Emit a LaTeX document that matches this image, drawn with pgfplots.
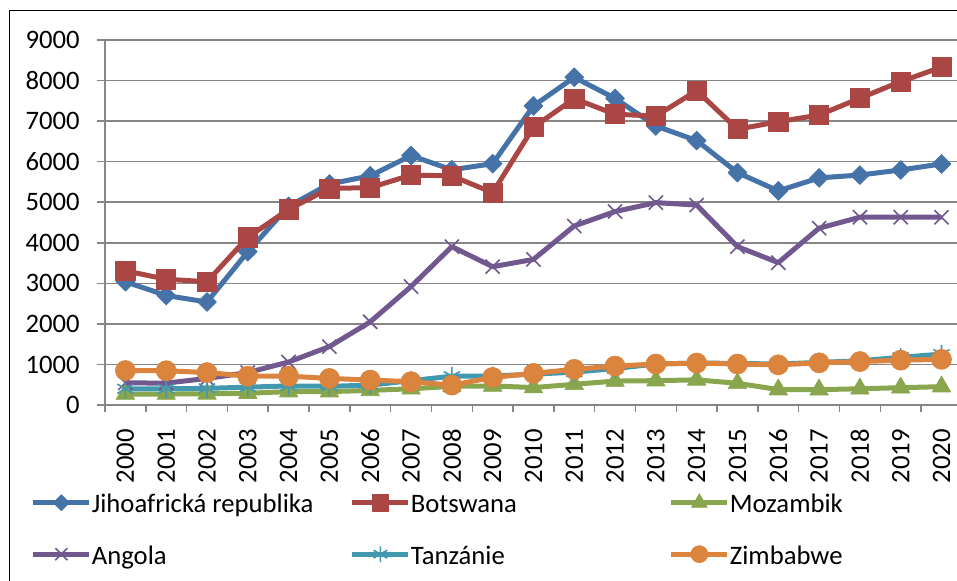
\documentclass[border=0pt]{standalone}
\usepackage{fontspec}
\setmainfont{Carlito}
\usepackage{pgfplots}
\pgfplotsset{compat=1.18}
\definecolor{cJ}{HTML}{4572A7}
\definecolor{cB}{HTML}{AA4643}
\definecolor{cM}{HTML}{89A54E}
\definecolor{cA}{HTML}{71588F}
\definecolor{cT}{HTML}{4198AF}
\definecolor{cZ}{HTML}{DB843D}
\definecolor{gridgray}{HTML}{868686}
\newcommand{\fs}{\fontsize{20}{24}\selectfont}
\newcommand{\legtxt}[1]{\makebox[193.5pt][l]{\strut #1}}
\begin{document}
\begin{tikzpicture}
\useasboundingbox (0,0) rectangle (717.75pt,435.75pt);
\draw[black,line width=1pt] (7pt,-5pt) -- (7pt,427.7pt) -- (725pt,427.7pt);
\begin{axis}[
  scale only axis, width=639pt, height=273.75pt,
  at={(78.75pt,132pt)}, anchor=south west,
  xmin=-0.5, xmax=20.38, ymin=0, ymax=9000,
  axis x line=bottom, axis y line=left,
  axis line style={-, draw=gridgray, line width=1.1pt},
  ytick={0,1000,...,9000},
  yticklabels={0,1000,2000,3000,4000,5000,6000,7000,8000,9000},
  scaled y ticks=false,
  xtick={0,...,20},
  xticklabels={2000,2001,2002,2003,2004,2005,2006,2007,2008,2009,2010,2011,2012,2013,2014,2015,2016,2017,2018,2019,2020},
  minor xtick={-0.5,0.5,...,19.5},
  every major x tick/.append style={draw=none},
  tick align=outside, major tick length=6pt, minor tick length=5.25pt,
  tick style={draw=gridgray, line width=1.1pt},
  ymajorgrids, major grid style={draw=gridgray, line width=1.1pt},
  yticklabel style={font=\fs, anchor=east, inner sep=0pt, xshift=-12.75pt},
  xticklabel style={font=\fs, yshift=-12pt, rotate=90, anchor=east, inner sep=0pt},
  every axis plot/.append style={line width=3.75pt, line join=round},
  legend columns=3,
  legend cell align=left,
  legend style={draw=none, fill=none, inner sep=0pt, outer sep=0pt, font=\fs,
    at={(-0.0870,-0.2345)}, anchor=north west, column sep=0pt, row sep=20.25pt,
    nodes={inner sep=0pt}},
  legend image code/.code={\draw[mark repeat=2,mark phase=2,#1,every mark/.append style={scale=0.85}] plot coordinates {(0pt,0pt) (21pt,0pt) (42pt,0pt)};},
]
\addplot[color=cJ, mark=square*, mark size=5pt, mark options={rotate=45, fill=cJ, draw=cJ, line width=0.5pt}] coordinates {
(0,3040) (1,2700) (2,2540) (3,3780) (4,4900) (5,5450) (6,5650) (7,6150) (8,5800) (9,5950) (10,7375) (11,8080) (12,7560) (13,6880) (14,6520) (15,5730) (16,5280) (17,5600) (18,5670) (19,5795) (20,5945)};
\addlegendentry{\legtxt{Jihoafrická republika}}
\addplot[color=cB, mark=square*, mark size=7.2pt, mark options={fill=cB, draw=cB, line width=0.5pt}] coordinates {
(0,3310) (1,3100) (2,3040) (3,4135) (4,4825) (5,5340) (6,5360) (7,5670) (8,5650) (9,5235) (10,6850) (11,7555) (12,7170) (13,7125) (14,7750) (15,6800) (16,6985) (17,7150) (18,7565) (19,7975) (20,8330)};
\addlegendentry{\legtxt{Botswana}}
\addplot[color=cM, mark=triangle*, mark size=8pt, mark options={fill=cM, draw=cM, line width=0.5pt}] coordinates {
(0,270) (1,270) (2,275) (3,290) (4,330) (5,330) (6,360) (7,400) (8,460) (9,470) (10,430) (11,510) (12,590) (13,600) (14,620) (15,535) (16,380) (17,378) (18,400) (19,427) (20,452)};
\addlegendentry{\legtxt{Mozambik}}
\addplot[color=cA, mark=x, mark size=7.5pt, mark options={draw=cA, line width=1.2pt}] coordinates {
(0,545) (1,540) (2,655) (3,800) (4,1060) (5,1440) (6,2050) (7,2920) (8,3905) (9,3410) (10,3590) (11,4415) (12,4770) (13,4990) (14,4930) (15,3905) (16,3510) (17,4360) (18,4630) (19,4630) (20,4630)};
\addlegendentry{\legtxt{Angola}}
\addplot[color=cT, mark=asterisk, mark size=7pt, mark options={draw=cT, line width=1.2pt}] coordinates {
(0,400) (1,400) (2,410) (3,440) (4,470) (5,460) (6,490) (7,600) (8,710) (9,715) (10,760) (11,810) (12,900) (13,1010) (14,1035) (15,1025) (16,1010) (17,1050) (18,1090) (19,1175) (20,1255)};
\addlegendentry{\legtxt{Tanzánie}}
\addplot[color=cZ, mark=*, mark size=7.5pt, mark options={fill=cZ, draw=cZ, line width=0.5pt}] coordinates {
(0,850) (1,845) (2,800) (3,710) (4,710) (5,655) (6,615) (7,575) (8,490) (9,680) (10,780) (11,880) (12,960) (13,1010) (14,1035) (15,1010) (16,990) (17,1040) (18,1070) (19,1105) (20,1125)};
\addlegendentry{\legtxt{Zimbabwe}}
\end{axis}
\end{tikzpicture}
\end{document}
